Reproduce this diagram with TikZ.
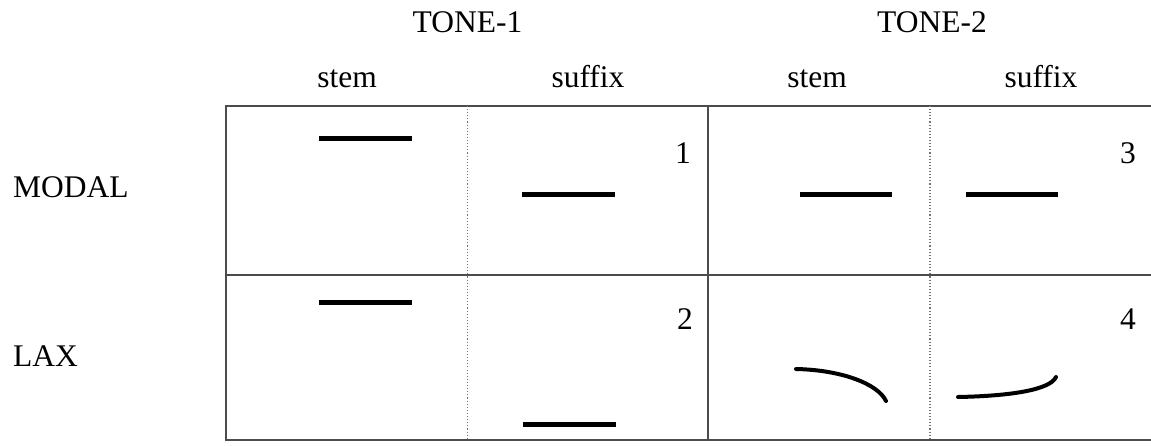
\documentclass[tikz,border=0pt]{standalone}
\usepackage{fontspec}
\setmainfont{Liberation Serif}
\begin{document}
\begin{tikzpicture}[x=1pt,y=-1pt,
  lbl/.style={font=\fontsize{31.5}{35}\selectfont, inner sep=0pt, anchor=base},
  lbll/.style={lbl, anchor=base west},
  grid/.style={draw=black!70, line width=1.6pt},
  sep/.style={draw=black!55, line width=1.1pt, dotted},
  tone/.style={line width=5pt, black},
  contour/.style={line width=4pt, black, line cap=round}]
\useasboundingbox (0,0) rectangle (1151,446);
% grid
\draw[grid] (1152,106) -- (226,106) -- (226,440) -- (1152,440);
\draw[grid] (226,275) -- (1152,275);
\draw[grid] (708,106) -- (708,440);
\draw[sep] (467.5,106) -- (467.5,440);
\draw[sep] (930,106) -- (930,440);
% headers
\node[lbl] (t1) at (467.5,33) {TONE-1};
\node[lbl] (t2) at (932,33) {TONE-2};
\node[lbl] (s1) at (347,88) {stem};
\node[lbl] (f1) at (588,88) {suffix};
\node[lbl] (s2) at (817,88) {stem};
\node[lbl] (f2) at (1041,88) {suffix};
\node[lbll] (modal) at (13,198) {MODAL};
\node[lbll] (lax) at (13,366) {LAX};
% numbers
\node[lbl] (n1) at (683,164) {1};
\node[lbl] (n3) at (1128,164) {3};
\node[lbl] (n2) at (685,330) {2};
\node[lbl] (n4) at (1128,330) {4};
% modal tones
\draw[tone] (319,139) -- (412,139);
\draw[tone] (522,195) -- (615,195);
\draw[tone] (800,195) -- (892,195);
\draw[tone] (966,195) -- (1058,195);
% lax tones
\draw[tone] (319,303) -- (412,303);
\draw[tone] (523,424) -- (616,424);
\draw[contour] (796,369) .. controls (842,370) and (878,384) .. (886,401);
\draw[contour] (958,397) .. controls (1010,396) and (1050,390) .. (1056,377);
\end{tikzpicture}
\end{document}
